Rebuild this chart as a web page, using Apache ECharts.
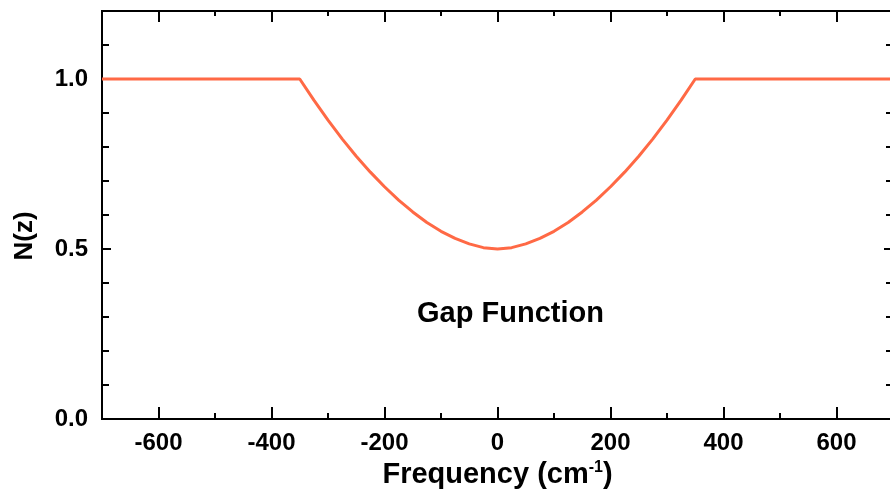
<!DOCTYPE html>
<html>
<head>
<meta charset="utf-8">
<script src="https://cdn.jsdelivr.net/npm/echarts@6/dist/echarts.min.js"></script>
<style>
  html, body { margin: 0; padding: 0; background: #ffffff; }
  #chart { width: 890px; height: 499px; }
</style>
</head>
<body>
<div id="chart"></div>
<script>
// Normalised density of states N(z) across the gap region
const frequency = [-700, -350, -325, -300, -275, -250, -225, -200, -175, -150, -125, -100, -75, -50, -25,
  0, 25, 50, 75, 100, 125, 150, 175, 200, 225, 250, 275, 300, 325, 350, 700];
const nValues = [1.000, 1.000, 0.938, 0.879, 0.824, 0.773, 0.726, 0.683, 0.644, 0.609, 0.578, 0.552, 0.531, 0.515, 0.504,
  0.500, 0.504, 0.515, 0.531, 0.552, 0.578, 0.609, 0.644, 0.683, 0.726, 0.773, 0.824, 0.879, 0.938, 1.000, 1.000];

// Axis ticks
const xMajorTicks = [-600, -400, -200, 0, 200, 400, 600];
const xMinorTicks = [-500, -300, -100, 100, 300, 500];
const yMajorTicks = [0, 0.5, 1.0];
const yMinorTicks = [0.1, 0.2, 0.3, 0.4, 0.6, 0.7, 0.8, 0.9, 1.1];

const xRange = [-700, 700];
const yRange = [0, 1.2];

const annotationText = 'Gap Function';
const annotationAt = [23, 0.31];

const FONT = '"Liberation Sans", Arial, Helvetica, sans-serif';
const INK = '#000000';
const CURVE = '#ff6945';

const chart = echarts.init(document.getElementById('chart'), null, { renderer: 'canvas' });

function xAxisDef(position, ticks, len, withLabels) {
  return {
    type: 'value', position: position, min: xRange[0], max: xRange[1],
    axisLine: { show: true, onZero: false, lineStyle: { color: INK, width: 2 } },
    axisTick: { show: true, inside: true, length: len, customValues: ticks, lineStyle: { color: INK, width: 2 } },
    axisLabel: withLabels ? {
      show: true, customValues: ticks, margin: 12, color: INK, fontFamily: FONT,
      fontWeight: 'bold', fontSize: 24
    } : { show: false },
    splitLine: { show: false }
  };
}

function yAxisDef(position, ticks, len, withLabels) {
  return {
    type: 'value', position: position, min: yRange[0], max: yRange[1],
    axisLine: { show: true, onZero: false, lineStyle: { color: INK, width: 2 } },
    axisTick: { show: true, inside: true, length: len, customValues: ticks, lineStyle: { color: INK, width: 2 } },
    axisLabel: withLabels ? {
      show: true, customValues: ticks, margin: 14, color: INK, fontFamily: FONT,
      fontWeight: 'bold', fontSize: 24, formatter: v => v.toFixed(1)
    } : { show: false },
    splitLine: { show: false }
  };
}

const xBottom = xAxisDef('bottom', xMajorTicks, 12, true);
xBottom.name = 'Frequency (cm{sup|-1})';
xBottom.nameLocation = 'middle';
xBottom.nameGap = 38;
xBottom.nameTextStyle = {
  color: INK, fontFamily: FONT, fontWeight: 'bold', fontSize: 29,
  rich: {
    sup: { color: INK, fontFamily: FONT, fontWeight: 'bold', fontSize: 16, verticalAlign: 'top', padding: [0, 0, 14, 0] }
  }
};

const yLeft = yAxisDef('left', yMajorTicks, 9, true);
yLeft.name = 'N(z)';
yLeft.nameLocation = 'middle';
yLeft.nameRotate = 90;
yLeft.nameGap = 64;
yLeft.nameTextStyle = {
  color: INK, fontFamily: FONT, fontWeight: 'bold', fontSize: 26,
  padding: [0, 42, 0, 0]
};

chart.setOption({
  animation: false,
  backgroundColor: '#ffffff',
  grid: { left: 102, top: 11, width: 791, height: 408, containLabel: false, outerBoundsMode: 'none' },
  xAxis: [
    xBottom,
    xAxisDef('bottom', xMinorTicks, 6, false),
    xAxisDef('top', xMajorTicks, 11, false),
    xAxisDef('top', xMinorTicks, 5, false)
  ],
  yAxis: [
    yLeft,
    yAxisDef('left', yMinorTicks, 7, false),
    yAxisDef('right', yMajorTicks, 9, false),
    yAxisDef('right', yMinorTicks, 7, false)
  ],
  series: [{
    type: 'line',
    xAxisIndex: 0, yAxisIndex: 0,
    data: frequency.map((f, i) => [f, nValues[i]]),
    showSymbol: false,
    smooth: false,
    lineStyle: { color: CURVE, width: 3 },
    clip: true
  }]
});

// Place the annotation text in data coordinates
const pos = chart.convertToPixel({ xAxisIndex: 0, yAxisIndex: 0 }, annotationAt);
chart.setOption({
  graphic: [{
    type: 'text',
    x: pos[0], y: pos[1],
    style: {
      text: annotationText, fill: INK, font: 'bold 29px ' + FONT,
      textAlign: 'center', textVerticalAlign: 'middle'
    }
  }]
});
</script>
</body>
</html>
